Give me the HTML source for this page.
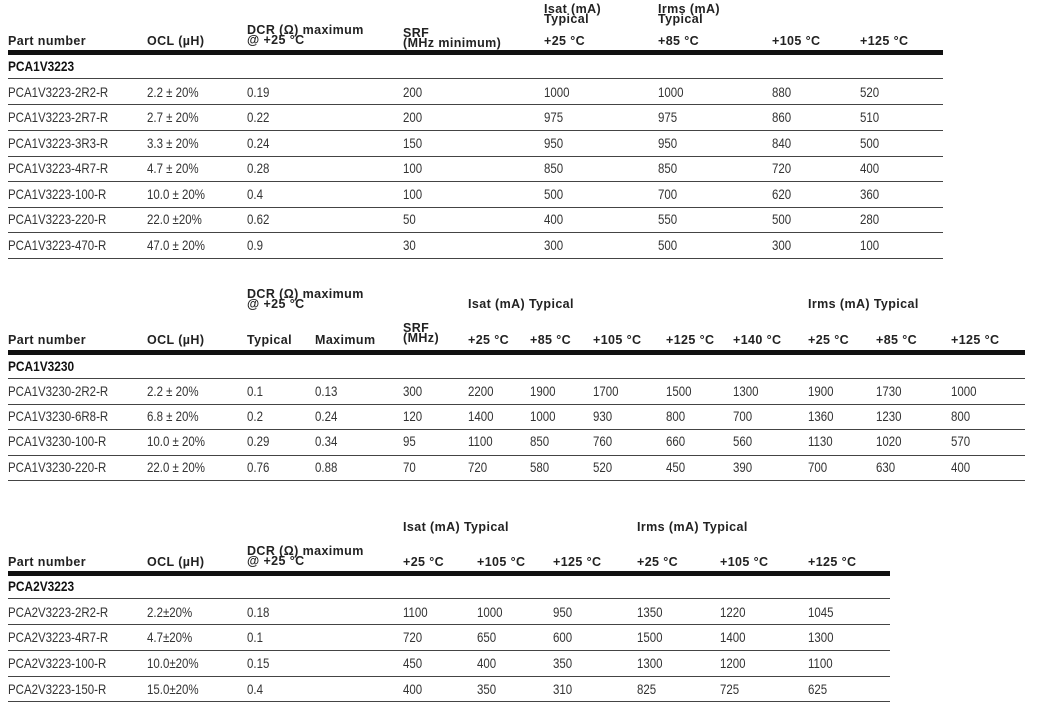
<!DOCTYPE html>
<html><head><meta charset="utf-8"><style>
body{margin:0;width:1045px;height:702px;background:#fff;position:relative;overflow:hidden;font-family:"Liberation Sans",sans-serif}
.d,.h,.t{position:absolute;white-space:nowrap;line-height:14px}
.d{font-size:14px;color:#333;transform:scaleX(.82);transform-origin:0 0}
.t{font-size:14px;color:#111;font-weight:bold;transform:scaleX(.85);transform-origin:0 0}
.h{font-size:12.5px;letter-spacing:.4px;color:#222;font-weight:bold;line-height:10px}
.k{position:absolute;left:8px;height:5px;background:#111}
.l{position:absolute;left:8px;height:1px;background:#444}
</style></head><body>
<!-- Table 1 -->
<div class="h" style="left:8px;top:36px">Part number</div>
<div class="h" style="left:147px;top:36px">OCL (µH)</div>
<div class="h" style="left:247px;top:25px">DCR (Ω) maximum<br>@ +25 °C</div>
<div class="h" style="left:403px;top:28px">SRF<br>(MHz minimum)</div>
<div class="h" style="left:544px;top:4px">Isat (mA)<br>Typical</div>
<div class="h" style="left:658px;top:4px">Irms (mA)<br>Typical</div>
<div class="h" style="left:544px;top:36px">+25 °C</div>
<div class="h" style="left:658px;top:36px">+85 °C</div>
<div class="h" style="left:772px;top:36px">+105 °C</div>
<div class="h" style="left:860px;top:36px">+125 °C</div>
<div class="k" style="top:50px;width:935px"></div>
<div class="t" style="left:8px;top:59px">PCA1V3223</div>
<div class="l" style="top:78px;width:935px"></div>
<div class="l" style="top:104px;width:935px"></div>
<div class="l" style="top:130px;width:935px"></div>
<div class="l" style="top:156px;width:935px"></div>
<div class="l" style="top:181px;width:935px"></div>
<div class="l" style="top:207px;width:935px"></div>
<div class="l" style="top:232px;width:935px"></div>
<div class="l" style="top:258px;width:935px"></div>

<div class="d" style="left:8px;top:85px">PCA1V3223-2R2-R</div><div class="d" style="left:147px;top:85px">2.2 ± 20%</div><div class="d" style="left:247px;top:85px">0.19</div><div class="d" style="left:403px;top:85px">200</div><div class="d" style="left:544px;top:85px">1000</div><div class="d" style="left:658px;top:85px">1000</div><div class="d" style="left:772px;top:85px">880</div><div class="d" style="left:860px;top:85px">520</div>
<div class="d" style="left:8px;top:110px">PCA1V3223-2R7-R</div><div class="d" style="left:147px;top:110px">2.7 ± 20%</div><div class="d" style="left:247px;top:110px">0.22</div><div class="d" style="left:403px;top:110px">200</div><div class="d" style="left:544px;top:110px">975</div><div class="d" style="left:658px;top:110px">975</div><div class="d" style="left:772px;top:110px">860</div><div class="d" style="left:860px;top:110px">510</div>
<div class="d" style="left:8px;top:136px">PCA1V3223-3R3-R</div><div class="d" style="left:147px;top:136px">3.3 ± 20%</div><div class="d" style="left:247px;top:136px">0.24</div><div class="d" style="left:403px;top:136px">150</div><div class="d" style="left:544px;top:136px">950</div><div class="d" style="left:658px;top:136px">950</div><div class="d" style="left:772px;top:136px">840</div><div class="d" style="left:860px;top:136px">500</div>
<div class="d" style="left:8px;top:161px">PCA1V3223-4R7-R</div><div class="d" style="left:147px;top:161px">4.7 ± 20%</div><div class="d" style="left:247px;top:161px">0.28</div><div class="d" style="left:403px;top:161px">100</div><div class="d" style="left:544px;top:161px">850</div><div class="d" style="left:658px;top:161px">850</div><div class="d" style="left:772px;top:161px">720</div><div class="d" style="left:860px;top:161px">400</div>
<div class="d" style="left:8px;top:187px">PCA1V3223-100-R</div><div class="d" style="left:147px;top:187px">10.0 ± 20%</div><div class="d" style="left:247px;top:187px">0.4</div><div class="d" style="left:403px;top:187px">100</div><div class="d" style="left:544px;top:187px">500</div><div class="d" style="left:658px;top:187px">700</div><div class="d" style="left:772px;top:187px">620</div><div class="d" style="left:860px;top:187px">360</div>
<div class="d" style="left:8px;top:212px">PCA1V3223-220-R</div><div class="d" style="left:147px;top:212px">22.0 ±20%</div><div class="d" style="left:247px;top:212px">0.62</div><div class="d" style="left:403px;top:212px">50</div><div class="d" style="left:544px;top:212px">400</div><div class="d" style="left:658px;top:212px">550</div><div class="d" style="left:772px;top:212px">500</div><div class="d" style="left:860px;top:212px">280</div>
<div class="d" style="left:8px;top:238px">PCA1V3223-470-R</div><div class="d" style="left:147px;top:238px">47.0 ± 20%</div><div class="d" style="left:247px;top:238px">0.9</div><div class="d" style="left:403px;top:238px">30</div><div class="d" style="left:544px;top:238px">300</div><div class="d" style="left:658px;top:238px">500</div><div class="d" style="left:772px;top:238px">300</div><div class="d" style="left:860px;top:238px">100</div>

<!-- Table 2 -->
<div class="h" style="left:247px;top:289px">DCR (Ω) maximum<br>@ +25 °C</div>
<div class="h" style="left:468px;top:299px">Isat (mA) Typical</div>
<div class="h" style="left:808px;top:299px">Irms (mA) Typical</div>
<div class="h" style="left:403px;top:323px">SRF<br>(MHz)</div>
<div class="h" style="left:8px;top:335px">Part number</div>
<div class="h" style="left:147px;top:335px">OCL (µH)</div>
<div class="h" style="left:247px;top:335px">Typical</div>
<div class="h" style="left:315px;top:335px">Maximum</div>
<div class="h" style="left:468px;top:335px">+25 °C</div>
<div class="h" style="left:530px;top:335px">+85 °C</div>
<div class="h" style="left:593px;top:335px">+105 °C</div>
<div class="h" style="left:666px;top:335px">+125 °C</div>
<div class="h" style="left:733px;top:335px">+140 °C</div>
<div class="h" style="left:808px;top:335px">+25 °C</div>
<div class="h" style="left:876px;top:335px">+85 °C</div>
<div class="h" style="left:951px;top:335px">+125 °C</div>
<div class="k" style="top:350px;width:1017px"></div>
<div class="t" style="left:8px;top:359px">PCA1V3230</div>
<div class="l" style="top:378px;width:1017px"></div>
<div class="l" style="top:404px;width:1017px"></div>
<div class="l" style="top:429px;width:1017px"></div>
<div class="l" style="top:455px;width:1017px"></div>
<div class="l" style="top:480px;width:1017px"></div>

<div class="d" style="left:8px;top:384px">PCA1V3230-2R2-R</div><div class="d" style="left:147px;top:384px">2.2 ± 20%</div><div class="d" style="left:247px;top:384px">0.1</div><div class="d" style="left:315px;top:384px">0.13</div><div class="d" style="left:403px;top:384px">300</div><div class="d" style="left:468px;top:384px">2200</div><div class="d" style="left:530px;top:384px">1900</div><div class="d" style="left:593px;top:384px">1700</div><div class="d" style="left:666px;top:384px">1500</div><div class="d" style="left:733px;top:384px">1300</div><div class="d" style="left:808px;top:384px">1900</div><div class="d" style="left:876px;top:384px">1730</div><div class="d" style="left:951px;top:384px">1000</div>
<div class="d" style="left:8px;top:409px">PCA1V3230-6R8-R</div><div class="d" style="left:147px;top:409px">6.8 ± 20%</div><div class="d" style="left:247px;top:409px">0.2</div><div class="d" style="left:315px;top:409px">0.24</div><div class="d" style="left:403px;top:409px">120</div><div class="d" style="left:468px;top:409px">1400</div><div class="d" style="left:530px;top:409px">1000</div><div class="d" style="left:593px;top:409px">930</div><div class="d" style="left:666px;top:409px">800</div><div class="d" style="left:733px;top:409px">700</div><div class="d" style="left:808px;top:409px">1360</div><div class="d" style="left:876px;top:409px">1230</div><div class="d" style="left:951px;top:409px">800</div>
<div class="d" style="left:8px;top:434px">PCA1V3230-100-R</div><div class="d" style="left:147px;top:434px">10.0 ± 20%</div><div class="d" style="left:247px;top:434px">0.29</div><div class="d" style="left:315px;top:434px">0.34</div><div class="d" style="left:403px;top:434px">95</div><div class="d" style="left:468px;top:434px">1100</div><div class="d" style="left:530px;top:434px">850</div><div class="d" style="left:593px;top:434px">760</div><div class="d" style="left:666px;top:434px">660</div><div class="d" style="left:733px;top:434px">560</div><div class="d" style="left:808px;top:434px">1130</div><div class="d" style="left:876px;top:434px">1020</div><div class="d" style="left:951px;top:434px">570</div>
<div class="d" style="left:8px;top:460px">PCA1V3230-220-R</div><div class="d" style="left:147px;top:460px">22.0 ± 20%</div><div class="d" style="left:247px;top:460px">0.76</div><div class="d" style="left:315px;top:460px">0.88</div><div class="d" style="left:403px;top:460px">70</div><div class="d" style="left:468px;top:460px">720</div><div class="d" style="left:530px;top:460px">580</div><div class="d" style="left:593px;top:460px">520</div><div class="d" style="left:666px;top:460px">450</div><div class="d" style="left:733px;top:460px">390</div><div class="d" style="left:808px;top:460px">700</div><div class="d" style="left:876px;top:460px">630</div><div class="d" style="left:951px;top:460px">400</div>

<!-- Table 3 -->
<div class="h" style="left:403px;top:522px">Isat (mA) Typical</div>
<div class="h" style="left:637px;top:522px">Irms (mA) Typical</div>
<div class="h" style="left:247px;top:546px">DCR (Ω) maximum<br>@ +25 °C</div>
<div class="h" style="left:8px;top:557px">Part number</div>
<div class="h" style="left:147px;top:557px">OCL (µH)</div>
<div class="h" style="left:403px;top:557px">+25 °C</div>
<div class="h" style="left:477px;top:557px">+105 °C</div>
<div class="h" style="left:553px;top:557px">+125 °C</div>
<div class="h" style="left:637px;top:557px">+25 °C</div>
<div class="h" style="left:720px;top:557px">+105 °C</div>
<div class="h" style="left:808px;top:557px">+125 °C</div>
<div class="k" style="top:571px;width:882px"></div>
<div class="t" style="left:8px;top:579px">PCA2V3223</div>
<div class="l" style="top:598px;width:882px"></div>
<div class="l" style="top:624px;width:882px"></div>
<div class="l" style="top:650px;width:882px"></div>
<div class="l" style="top:676px;width:882px"></div>
<div class="l" style="top:701px;width:882px"></div>

<div class="d" style="left:8px;top:605px">PCA2V3223-2R2-R</div><div class="d" style="left:147px;top:605px">2.2±20%</div><div class="d" style="left:247px;top:605px">0.18</div><div class="d" style="left:403px;top:605px">1100</div><div class="d" style="left:477px;top:605px">1000</div><div class="d" style="left:553px;top:605px">950</div><div class="d" style="left:637px;top:605px">1350</div><div class="d" style="left:720px;top:605px">1220</div><div class="d" style="left:808px;top:605px">1045</div>
<div class="d" style="left:8px;top:630px">PCA2V3223-4R7-R</div><div class="d" style="left:147px;top:630px">4.7±20%</div><div class="d" style="left:247px;top:630px">0.1</div><div class="d" style="left:403px;top:630px">720</div><div class="d" style="left:477px;top:630px">650</div><div class="d" style="left:553px;top:630px">600</div><div class="d" style="left:637px;top:630px">1500</div><div class="d" style="left:720px;top:630px">1400</div><div class="d" style="left:808px;top:630px">1300</div>
<div class="d" style="left:8px;top:656px">PCA2V3223-100-R</div><div class="d" style="left:147px;top:656px">10.0±20%</div><div class="d" style="left:247px;top:656px">0.15</div><div class="d" style="left:403px;top:656px">450</div><div class="d" style="left:477px;top:656px">400</div><div class="d" style="left:553px;top:656px">350</div><div class="d" style="left:637px;top:656px">1300</div><div class="d" style="left:720px;top:656px">1200</div><div class="d" style="left:808px;top:656px">1100</div>
<div class="d" style="left:8px;top:682px">PCA2V3223-150-R</div><div class="d" style="left:147px;top:682px">15.0±20%</div><div class="d" style="left:247px;top:682px">0.4</div><div class="d" style="left:403px;top:682px">400</div><div class="d" style="left:477px;top:682px">350</div><div class="d" style="left:553px;top:682px">310</div><div class="d" style="left:637px;top:682px">825</div><div class="d" style="left:720px;top:682px">725</div><div class="d" style="left:808px;top:682px">625</div>
</body></html>
